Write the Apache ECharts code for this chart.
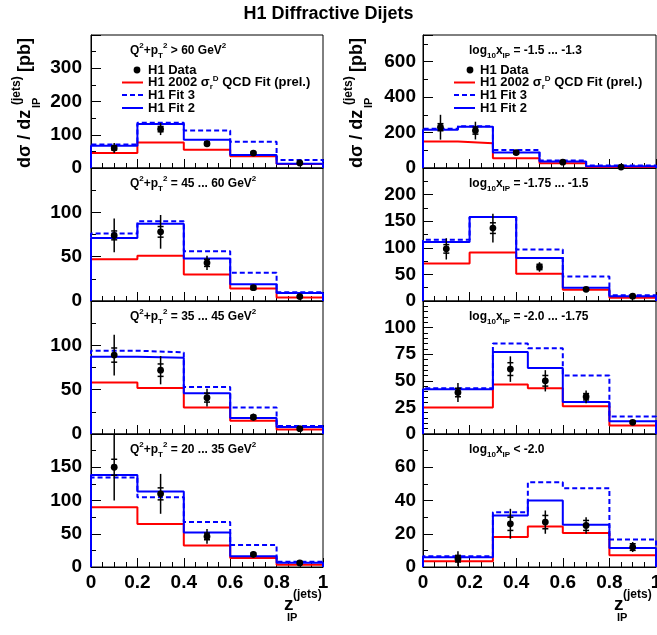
<!DOCTYPE html>
<html>
<head>
<meta charset="utf-8">
<script src="https://cdn.jsdelivr.net/npm/echarts@6/dist/echarts.min.js"></script>
<style>
html,body{margin:0;padding:0;background:#fff;}
#chart{width:657px;height:635px;}
</style>
</head>
<body>
<div id="chart"></div>
<script>
const FONT = '"Liberation Sans", Arial, Helvetica, sans-serif';

// ---------- Data (left column: Q^2+pT^2 bins) ----------
const qBinEdges = [0, 0.2, 0.4, 0.6, 0.8, 1.0];
const qPointX   = [0.1, 0.3, 0.5, 0.7, 0.9];

const q60Data = [60, 117, 73, 45, 15];
const q60Tot  = [15, 18, 10, 5, 3];
const q60Stat = [6, 8, 5, 3, 2];
const q60Red  = [45, 77, 55, 35, 12];
const q60Fit2 = [67, 132, 85, 39, 13];
const q60Fit3 = [71, 136, 113, 79, 24];

const q45Data = [74, 78, 43, 15, 5];
const q45Tot  = [19, 19, 8, 3, 2];
const q45Stat = [5, 6, 4, 2, 1];
const q45Red  = [47, 51, 30, 14, 4];
const q45Fit2 = [71, 87, 48, 19, 9];
const q45Fit3 = [76, 90, 56, 32, 10];

const q35Data = [89, 72, 41, 19, 6];
const q35Tot  = [23, 16, 10, 4, 2];
const q35Stat = [8, 7, 5, 2, 1];
const q35Red  = [58, 52, 30, 15, 5];
const q35Fit2 = [87, 86, 46, 18, 8];
const q35Fit3 = [94, 92, 53, 30, 9];

const q20Data = [150, 110, 46, 19, 6];
const q20Tot  = [50, 30, 11, 5, 2];
const q20Stat = [12, 9, 5, 2, 1];
const q20Red  = [90, 64.5, 32.5, 13.5, 3.5];
const q20Fit2 = [138.5, 113.5, 52, 16, 6.5];
const q20Fit3 = [134.5, 105, 67.5, 33, 8];

// ---------- Data (right column: log10 x_IP bins) ----------
const x13BinEdges = [0, 0.15, 0.3, 0.5, 0.7, 1.0];
const x13PointX   = [0.075, 0.225, 0.4, 0.6, 0.85];
const x13Data = [230, 211, 87, 33, 5];
const x13Tot  = [70, 50, 13, 8, 3];
const x13Stat = [20, 20, 8, 4, 2];
const x13Red  = [149, 140, 55, 27, 5];
const x13Fit2 = [215, 232, 87, 37, 10];
const x13Fit3 = [222, 236, 102, 42, 14];

const x15BinEdges = [0, 0.2, 0.4, 0.6, 0.8, 1.0];
const x15PointX   = [0.1, 0.3, 0.5, 0.7, 0.9];
const x15Data = [98, 137, 64, 22, 9];
const x15Tot  = [20, 27, 9, 3, 3];
const x15Stat = [8, 10, 5, 2, 1];
const x15Red  = [70.6, 91, 51, 21, 6];
const x15Fit2 = [111, 158, 81, 25, 9];
const x15Fit3 = [115, 158, 97, 46, 11];

const x175BinEdges = [0, 0.3, 0.45, 0.6, 0.8, 1.0];
const x175PointX   = [0.15, 0.375, 0.525, 0.7, 0.9];
const x175Data = [39, 61, 50, 35, 11];
const x175Tot  = [9, 12, 10, 6, 2];
const x175Stat = [4, 6, 5, 3, 1];
const x175Red  = [25, 46.5, 43, 26, 8];
const x175Fit2 = [42, 77, 62, 30, 12];
const x175Fit3 = [43, 85, 80.5, 55, 16.5];

const x20BinEdges = [0, 0.3, 0.45, 0.6, 0.8, 1.0];
const x20PointX   = [0.15, 0.375, 0.525, 0.7, 0.9];
const x20Data = [5, 26, 27, 25, 12];
const x20Tot  = [4.5, 9, 7, 5, 3];
const x20Stat = [2, 4, 4, 3, 2];
const x20Red  = [3.4, 18, 24.4, 20.4, 7];
const x20Fit2 = [5.8, 31, 40, 25.4, 11.4];
const x20Fit3 = [6.4, 33, 51, 47.4, 16.6];

// ---------- Axis scales ----------
const yMaxList      = [400, 150, 150, 200, 750, 250, 125, 80];
const yIntervalList = [100, 50, 50, 50, 200, 50, 25, 20];
const yMinorSplit   = [2, 2, 2, 2, 2, 2, 5, 2];
const xTickLabels   = [0, 0.2, 0.4, 0.6, 0.8, 1];

// ---------- Text ----------
const chartTitle = 'H1 Diffractive Dijets';
const panelLabels = [
  'Q{sup|2}+p{sub|T}{sup|2} {txt|> 60 GeV}{sup|2}',
  'Q{sup|2}+p{sub|T}{sup|2} = 45 ... 60 GeV{sup|2}',
  'Q{sup|2}+p{sub|T}{sup|2} = 35 ... 45 GeV{sup|2}',
  'Q{sup|2}+p{sub|T}{sup|2} = 20 ... 35 GeV{sup|2}',
  'log{sub|10}x{sub|IP} = -1.5 ... -1.3',
  'log{sub|10}x{sub|IP} = -1.75 ... -1.5',
  'log{sub|10}x{sub|IP} = -2.0 ... -1.75',
  'log{sub|10}x{sub|IP} < -2.0'
];
const legendNames = ['H1 Data', 'H1 2002 σ{sub|r}{sup|D} QCD Fit (prel.)', 'H1 Fit 3', 'H1 Fit 2'];
const seriesNames = ['H1 Data', 'H1 2002 σrD QCD Fit (prel.)', 'H1 Fit 3', 'H1 Fit 2'];

const panels = [
  {edges: qBinEdges, px: qPointX, data: q60Data, tot: q60Tot, stat: q60Stat, red: q60Red, fit2: q60Fit2, fit3: q60Fit3},
  {edges: qBinEdges, px: qPointX, data: q45Data, tot: q45Tot, stat: q45Stat, red: q45Red, fit2: q45Fit2, fit3: q45Fit3},
  {edges: qBinEdges, px: qPointX, data: q35Data, tot: q35Tot, stat: q35Stat, red: q35Red, fit2: q35Fit2, fit3: q35Fit3},
  {edges: qBinEdges, px: qPointX, data: q20Data, tot: q20Tot, stat: q20Stat, red: q20Red, fit2: q20Fit2, fit3: q20Fit3},
  {edges: x13BinEdges, px: x13PointX, data: x13Data, tot: x13Tot, stat: x13Stat, red: x13Red, fit2: x13Fit2, fit3: x13Fit3},
  {edges: x15BinEdges, px: x15PointX, data: x15Data, tot: x15Tot, stat: x15Stat, red: x15Red, fit2: x15Fit2, fit3: x15Fit3},
  {edges: x175BinEdges, px: x175PointX, data: x175Data, tot: x175Tot, stat: x175Stat, red: x175Red, fit2: x175Fit2, fit3: x175Fit3},
  {edges: x20BinEdges, px: x20PointX, data: x20Data, tot: x20Tot, stat: x20Stat, red: x20Red, fit2: x20Fit2, fit3: x20Fit3}
];

// ---------- Layout ----------
const colLeft  = [91, 423];
const colWidth = [232, 233];
const rowTop   = [35, 168, 301, 434];
const rowH     = 133;

function stepPoints(edges, vals) {
  const pts = [[edges[0], 0]];
  for (let i = 0; i < vals.length; i++) {
    pts.push([edges[i], vals[i]]);
    pts.push([edges[i + 1], vals[i]]);
  }
  pts.push([edges[edges.length - 1], 0]);
  return pts;
}

const richBase = {
  sup: {fontSize: 8, fontWeight: 'bold', fontFamily: FONT, verticalAlign: 'top', lineHeight: 18},
  sub: {fontSize: 8, fontWeight: 'bold', fontFamily: FONT, verticalAlign: 'bottom', lineHeight: 18},
  txt: {fontSize: 12, fontWeight: 'bold', fontFamily: FONT, lineHeight: 18}
};

const grids = [], xAxes = [], yAxes = [], series = [], graphics = [];

for (let p = 0; p < 8; p++) {
  const col = p < 4 ? 0 : 1;
  const row = p % 4;
  const bottom = row === 3;
  grids.push({
    left: colLeft[col], top: rowTop[row], width: colWidth[col], height: rowH,
    show: true, borderColor: '#000', borderWidth: 1, backgroundColor: 'transparent',
    outerBoundsMode: 'none', containLabel: false
  });
  xAxes.push({
    type: 'value', gridIndex: p, min: 0, max: 1, interval: 0.2,
    axisLine: {show: true, lineStyle: {color: '#000', width: 1}},
    axisTick: {show: true, inside: true, length: 9, lineStyle: {color: '#000', width: 1}},
    minorTick: {show: true, splitNumber: 4, length: 5, lineStyle: {color: '#000', width: 1}},
    splitLine: {show: false},
    axisLabel: {show: bottom, color: '#000', fontSize: 19, fontWeight: 'bold', fontFamily: FONT, margin: 6,
      formatter: v => { const t = xTickLabels.find(q => Math.abs(q - v) < 1e-6); return t === undefined ? '' : String(t); }}
  });
  yAxes.push({
    type: 'value', gridIndex: p, min: 0, max: yMaxList[p], interval: yIntervalList[p],
    axisLine: {show: true, lineStyle: {color: '#000', width: 1}},
    axisTick: {show: true, inside: true, length: 10, lineStyle: {color: '#000', width: 1}},
    minorTick: {show: true, splitNumber: yMinorSplit[p], length: 5, lineStyle: {color: '#000', width: 1}},
    splitLine: {show: false},
    axisLabel: {color: '#000', fontSize: 19, fontWeight: 'bold', fontFamily: FONT, margin: col === 0 ? 9 : 7, showMaxLabel: false,
      formatter: v => (v >= yMaxList[p] - 1e-9 ? '' : String(v))}
  });

  const P = panels[p];
  series.push({
    name: seriesNames[1], type: 'line', xAxisIndex: p, yAxisIndex: p, data: stepPoints(P.edges, P.red),
    symbol: 'none', lineStyle: {color: '#ff0000', width: 2}, itemStyle: {color: '#ff0000'}, z: 2, animation: false, silent: true
  });
  series.push({
    name: seriesNames[2], type: 'line', xAxisIndex: p, yAxisIndex: p, data: stepPoints(P.edges, P.fit3),
    symbol: 'none', lineStyle: {color: '#0000ff', width: 2, type: [5, 3]}, itemStyle: {color: '#0000ff'}, z: 3, animation: false, silent: true
  });
  series.push({
    name: seriesNames[3], type: 'line', xAxisIndex: p, yAxisIndex: p, data: stepPoints(P.edges, P.fit2),
    symbol: 'none', lineStyle: {color: '#0000ff', width: 2}, itemStyle: {color: '#0000ff'}, z: 4, animation: false, silent: true
  });
  series.push({
    name: seriesNames[0], type: 'custom', xAxisIndex: p, yAxisIndex: p,
    data: P.px.map((x, i) => [x, P.data[i], P.tot[i], P.stat[i]]),
    encode: {x: 0, y: 1}, z: 5, animation: false, silent: true,
    renderItem: (params, api) => {
      const x = api.value(0), y = api.value(1), t = api.value(2), s = api.value(3);
      const lo = api.coord([x, y - t]), hi = api.coord([x, y + t]);
      const sl = api.coord([x, y - s]), sh = api.coord([x, y + s]);
      const c = api.coord([x, y]);
      const st = {stroke: '#000', lineWidth: 1.5};
      return {type: 'group', children: [
        {type: 'line', shape: {x1: lo[0], y1: lo[1], x2: hi[0], y2: hi[1]}, style: st},
        {type: 'line', shape: {x1: sl[0] - 3, y1: sl[1], x2: sl[0] + 3, y2: sl[1]}, style: st},
        {type: 'line', shape: {x1: sh[0] - 3, y1: sh[1], x2: sh[0] + 3, y2: sh[1]}, style: st},
        {type: 'circle', shape: {cx: c[0], cy: c[1], r: 3.4}, style: {fill: '#000'}}
      ]};
    }
  });

  // panel label
  const lx = col === 0 ? 130 : 469;
  graphics.push({
    type: 'text', left: lx, top: rowTop[row] + 7, silent: true,
    style: {text: panelLabels[p], fontSize: 12, fontWeight: 'bold', fontFamily: FONT, fill: '#000', rich: richBase, lineHeight: 18}
  });
}

// legends in the top panels
[0, 1].forEach(col => {
  const lineX0 = col === 0 ? 122 : 454;
  const textX = col === 0 ? 148 : 480;
  const dotX = col === 0 ? 137 : 470;
  const rowsY = [70, 82.5, 95, 108];
  graphics.push({type: 'circle', shape: {cx: dotX, cy: rowsY[0], r: 3.4}, style: {fill: '#000'}, silent: true});
  graphics.push({type: 'line', shape: {x1: lineX0, y1: rowsY[1], x2: lineX0 + 21, y2: rowsY[1]}, style: {stroke: '#ff0000', lineWidth: 2}, silent: true});
  graphics.push({type: 'line', shape: {x1: lineX0, y1: rowsY[2], x2: lineX0 + 21, y2: rowsY[2]}, style: {stroke: '#0000ff', lineWidth: 2, lineDash: [5, 3]}, silent: true});
  graphics.push({type: 'line', shape: {x1: lineX0, y1: rowsY[3], x2: lineX0 + 21, y2: rowsY[3]}, style: {stroke: '#0000ff', lineWidth: 2}, silent: true});
  legendNames.forEach((n, i) => {
    graphics.push({
      type: 'text', x: textX, y: rowsY[i], silent: true,
      style: {text: n, fontSize: 13, fontWeight: 'bold', fontFamily: FONT, fill: '#000', verticalAlign: 'middle',
        rich: {sup: {fontSize: 8, fontWeight: 'bold', fontFamily: FONT, verticalAlign: 'top', lineHeight: 16},
               sub: {fontSize: 8, fontWeight: 'bold', fontFamily: FONT, verticalAlign: 'bottom', lineHeight: 16}},
        lineHeight: 16}
    });
  });
});

// y-axis titles (rotated)
[25, 357].forEach(cx => {
  graphics.push({
    type: 'group', x: cx, y: 168, rotation: Math.PI / 2, silent: true,
    children: [
      {type: 'text', x: 0, y: 0, style: {text: 'dσ / dz', fontSize: 18, fontWeight: 'bold', fontFamily: FONT, fill: '#000', verticalAlign: 'middle'}},
      {type: 'text', x: 63, y: -8, style: {text: '(jets)', fontSize: 12, fontWeight: 'bold', fontFamily: FONT, fill: '#000', verticalAlign: 'middle'}},
      {type: 'text', x: 60, y: 12, style: {text: 'IP', fontSize: 11, fontWeight: 'bold', fontFamily: FONT, fill: '#000', verticalAlign: 'middle'}},
      {type: 'text', x: 96, y: 0, style: {text: '[pb]', fontSize: 18, fontWeight: 'bold', fontFamily: FONT, fill: '#000', verticalAlign: 'middle'}}
    ]
  });
});

// x-axis titles
[284, 614].forEach(zx => {
  graphics.push({type: 'text', x: zx, y: 605, silent: true, style: {text: 'z', fontSize: 19, fontWeight: 'bold', fontFamily: FONT, fill: '#000', verticalAlign: 'middle'}});
  graphics.push({type: 'text', x: zx + 9, y: 595, silent: true, style: {text: '(jets)', fontSize: 12, fontWeight: 'bold', fontFamily: FONT, fill: '#000', verticalAlign: 'middle'}});
  graphics.push({type: 'text', x: zx + 3, y: 618, silent: true, style: {text: 'IP', fontSize: 11, fontWeight: 'bold', fontFamily: FONT, fill: '#000', verticalAlign: 'middle'}});
});

const chart = echarts.init(document.getElementById('chart'), null, {renderer: 'canvas'});
chart.setOption({
  animation: false,
  backgroundColor: '#fff',
  title: {text: chartTitle, left: 'center', top: 0, textStyle: {fontSize: 18, fontWeight: 'bold', fontFamily: FONT, color: '#000'}},
  grid: grids, xAxis: xAxes, yAxis: yAxes, series: series, graphic: graphics
});
</script>
</body>
</html>
